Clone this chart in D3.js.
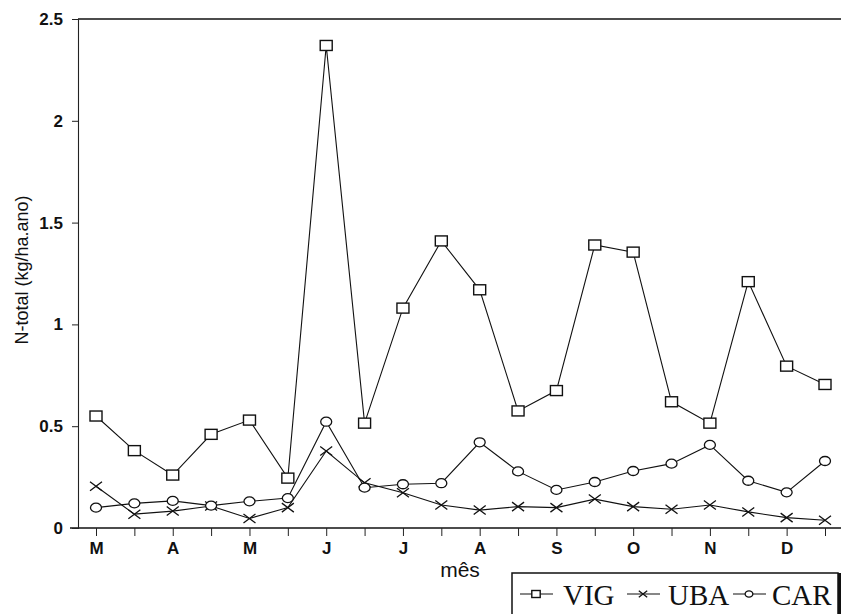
<!DOCTYPE html>
<html>
<head>
<meta charset="utf-8">
<script src="https://cdn.jsdelivr.net/npm/d3@7"></script>
<style>
	body { margin: 0; background: #fff; }
	#chart svg { display: block; }
</style>
</head>
<body>
<div id="chart"></div>
<script>
// Month labels under every other tick
var monthLabels = ["M", "", "A", "", "M", "", "J", "", "J", "", "A", "", "S", "", "O", "", "N", "", "D", ""];
var yTicks = [0, 0.5, 1, 1.5, 2, 2.5];

// N-total (kg/ha.ano) per sampling
var vig = [0.55, 0.38, 0.26, 0.46, 0.53, 0.245, 2.37, 0.515, 1.08, 1.41, 1.17, 0.575, 0.675, 1.39, 1.355, 0.62, 0.515, 1.21, 0.795, 0.705];
var uba = [0.205, 0.068, 0.083, 0.108, 0.047, 0.1, 0.378, 0.222, 0.173, 0.113, 0.088, 0.105, 0.1, 0.142, 0.105, 0.092, 0.113, 0.079, 0.051, 0.038];
var car = [0.1, 0.121, 0.133, 0.11, 0.131, 0.147, 0.522, 0.198, 0.215, 0.22, 0.421, 0.278, 0.187, 0.226, 0.28, 0.316, 0.408, 0.232, 0.175, 0.329];

var seriesNames = ["VIG", "UBA", "CAR"];
var seriesShapes = ["square", "cross", "circle"];

function lineChart() {
	var width = 841,
		height = 614;
	var svg = d3.select("#chart").append("svg").attr("width", width).attr("height", height);

	var marginTop = 19,
		marginLeft = 78,
		axisY = 528;

	// Scales
	var x = d3
		.scaleLinear()
		.domain([0, monthLabels.length - 1])
		.range([96, 825]);
	var y = d3.scaleLinear().domain([0, 2.5]).range([axisY, marginTop]);

	// Frame lines: top and extended bottom
	svg.append("line").attr("x1", marginLeft).attr("x2", width).attr("y1", marginTop).attr("y2", marginTop)
		.attr("stroke", "#111").attr("stroke-width", 1.6);
	svg.append("line").attr("x1", 70).attr("x2", width).attr("y1", axisY).attr("y2", axisY)
		.attr("stroke", "#111").attr("stroke-width", 1.6);

	// Y axis
	var yAxis = svg
		.append("g")
		.attr("transform", `translate(${marginLeft},0)`)
		.call(d3.axisLeft(y).tickValues(yTicks).tickSize(6).tickPadding(9).tickFormat(d3.format("")));
	yAxis.select(".domain").attr("stroke", "#222").attr("stroke-width", 1.1);
	yAxis.selectAll(".tick line").attr("stroke", "#222");
	yAxis.selectAll("text")
		.attr("fill", "#111")
		.style("font", "bold 17px 'Liberation Sans', Arial, sans-serif");

	// X axis
	var xAxis = svg
		.append("g")
		.attr("transform", `translate(0,${axisY})`)
		.call(d3.axisBottom(x).tickValues(d3.range(monthLabels.length)).tickSize(8).tickPadding(6)
			.tickFormat(function (d) { return monthLabels[d]; }));
	xAxis.select(".domain").remove();
	xAxis.selectAll(".tick line").attr("stroke", "#222");
	xAxis.selectAll("text")
		.attr("fill", "#111")
		.style("font", "bold 17px 'Liberation Sans', Arial, sans-serif");

	// Axis titles
	svg.append("text")
		.attr("transform", `translate(28,270) rotate(-90)`)
		.attr("text-anchor", "middle")
		.style("font", "18px 'Liberation Sans', Arial, sans-serif")
		.attr("fill", "#111")
		.text("N-total (kg/ha.ano)");
	svg.append("text")
		.attr("x", 460)
		.attr("y", 577)
		.attr("text-anchor", "middle")
		.style("font", "21px 'Liberation Sans', Arial, sans-serif")
		.attr("fill", "#111")
		.text("mês");

	// Lines
	var line = d3.line()
		.x(function (d, i) { return x(i); })
		.y(function (d) { return y(d); });
	var allSeries = [vig, uba, car];
	svg.selectAll("path.series")
		.data(allSeries)
		.enter()
		.append("path")
		.attr("class", "series")
		.attr("fill", "none")
		.attr("stroke", "#111")
		.attr("stroke-width", 1.1)
		.attr("d", line);

	// Markers
	function drawMarker(g, shape, cx, cy, s) {
		if (shape == "square") {
			g.append("rect").attr("x", cx - 6 * s).attr("y", cy - 5 * s).attr("width", 12 * s).attr("height", 10 * s)
				.attr("fill", "#fff").attr("stroke", "#111").attr("stroke-width", 1.4);
		} else if (shape == "circle") {
			g.append("ellipse").attr("cx", cx).attr("cy", cy).attr("rx", 5.5 * s).attr("ry", 4.5 * s)
				.attr("fill", "#fff").attr("stroke", "#111").attr("stroke-width", 1.3);
		} else {
			g.append("path")
				.attr("d", `M${cx - 6 * s},${cy - 4.5 * s}L${cx + 6 * s},${cy + 4.5 * s}M${cx - 6 * s},${cy + 4.5 * s}L${cx + 6 * s},${cy - 4.5 * s}`)
				.attr("stroke", "#111").attr("stroke-width", 1.3);
		}
	}
	var markerLayer = svg.append("g");
	allSeries.forEach(function (values, k) {
		values.forEach(function (v, i) {
			drawMarker(markerLayer, seriesShapes[k], x(i), y(v), 1);
		});
	});

	// Legend
	var legend = svg.append("g");
	legend.append("rect").attr("x", 512).attr("y", 573).attr("width", 326).attr("height", 50)
		.attr("fill", "#fff").attr("stroke", "#111").attr("stroke-width", 1.5);
	legend.append("line").attr("x1", 839.5).attr("x2", 839.5).attr("y1", 573).attr("y2", height)
		.attr("stroke", "#111").attr("stroke-width", 3);
	var legendX = [520, 627, 733];
	var legendTextX = [563, 668, 772];
	seriesNames.forEach(function (name, k) {
		legend.append("line").attr("x1", legendX[k]).attr("x2", legendX[k] + 33).attr("y1", 594).attr("y2", 594)
			.attr("stroke", "#111").attr("stroke-width", 1.2);
		drawMarker(legend, seriesShapes[k], legendX[k] + 16, 594, 0.7);
		legend.append("text")
			.attr("x", legendTextX[k])
			.attr("y", 605)
			.style("font", "29px 'Liberation Serif', 'Times New Roman', serif")
			.attr("fill", "#111")
			.text(name);
	});
}

lineChart();
</script>
</body>
</html>
